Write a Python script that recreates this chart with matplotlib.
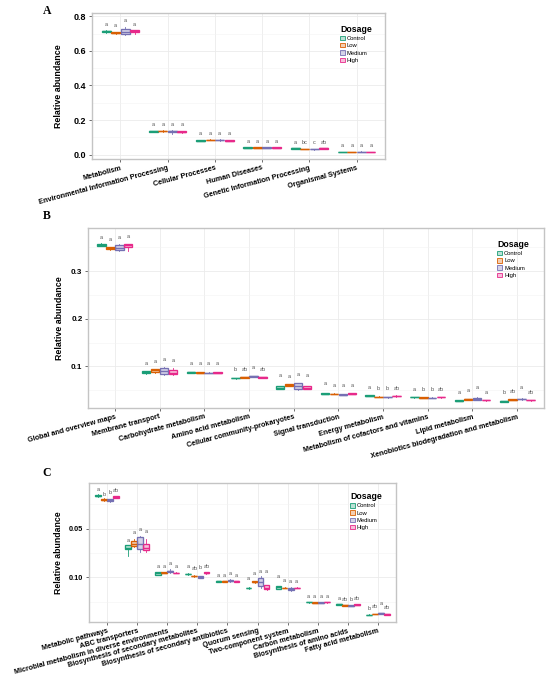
import matplotlib
matplotlib.use("Agg")
import matplotlib.pyplot as plt
from matplotlib.patches import Patch
from matplotlib.colors import to_rgba
from matplotlib.ticker import FixedLocator, FixedFormatter, MultipleLocator

plt.rcParams['font.family'] = ['Liberation Sans', 'DejaVu Sans']

dosages = ["Control", "Low", "Medium", "High"]
dose_colors = ["#1B9E77", "#D95F02", "#7570B3", "#E7298A"]

# ---------------- Panel A (KEGG level 1) ----------------
catsA = ["Metabolism", "Environmental Information Processing", "Cellular Processes",
         "Human Diseases", "Genetic Information Processing", "Organismal Systems"]
# (whisker low, Q1, median, Q3, whisker high)
A_control = [(0.706, 0.709, 0.713, 0.716, 0.719), (0.130, 0.132, 0.134, 0.136, 0.138),
             (0.077, 0.079, 0.081, 0.084, 0.085), (0.039, 0.040, 0.041, 0.043, 0.044),
             (0.034, 0.035, 0.036, 0.037, 0.038), (0.014, 0.015, 0.016, 0.017, 0.018)]
A_low = [(0.699, 0.701, 0.705, 0.708, 0.710), (0.133, 0.135, 0.137, 0.139, 0.140),
         (0.082, 0.084, 0.086, 0.087, 0.088), (0.039, 0.040, 0.041, 0.043, 0.044),
         (0.031, 0.032, 0.033, 0.034, 0.035), (0.014, 0.015, 0.016, 0.017, 0.018)]
A_medium = [(0.690, 0.698, 0.708, 0.725, 0.740), (0.122, 0.130, 0.134, 0.138, 0.141),
            (0.079, 0.082, 0.084, 0.087, 0.088), (0.038, 0.039, 0.040, 0.042, 0.043),
            (0.029, 0.030, 0.031, 0.032, 0.033), (0.014, 0.015, 0.016, 0.018, 0.019)]
A_high = [(0.700, 0.709, 0.713, 0.720, 0.722), (0.128, 0.131, 0.133, 0.135, 0.137),
          (0.077, 0.079, 0.081, 0.083, 0.084), (0.038, 0.039, 0.040, 0.042, 0.043),
          (0.034, 0.035, 0.036, 0.037, 0.038), (0.014, 0.015, 0.016, 0.017, 0.018)]
A_letters = [["a", "a", "a", "a"], ["a", "a", "a", "a"], ["a", "a", "a", "a"],
             ["a", "a", "a", "a"], ["a", "bc", "c", "ab"], ["a", "a", "a", "a"]]
A_letter_y = [[0.750, 0.745, 0.775, 0.752], [0.176, 0.176, 0.176, 0.176],
              [0.124, 0.124, 0.124, 0.124], [0.075, 0.075, 0.075, 0.075],
              [0.069, 0.069, 0.069, 0.069], [0.052, 0.052, 0.052, 0.052]]

# ---------------- Panel B (KEGG level 2) ----------------
catsB = ["Global and overview maps", "Membrane transport", "Carbohydrate metabolism",
         "Amino acid metabolism", "Cellular community-prokaryotes", "Signal transduction",
         "Energy metabolism", "Metabolism of cofactors and vitamins", "Lipid metabolism",
         "Xenobiotics biodegradation and metabolism"]
B_control = [(0.353, 0.354, 0.356, 0.358, 0.359), (0.084, 0.0853, 0.0874, 0.0895, 0.090),
             (0.086, 0.0868, 0.0877, 0.0885, 0.089), (0.074, 0.0745, 0.0754, 0.076, 0.0765),
             (0.0515, 0.0527, 0.0555, 0.0583, 0.059), (0.0415, 0.042, 0.0428, 0.0436, 0.044),
             (0.037, 0.0375, 0.0383, 0.039, 0.0395), (0.0342, 0.0346, 0.0352, 0.0358, 0.0362),
             (0.027, 0.0273, 0.0278, 0.0284, 0.0288), (0.0255, 0.026, 0.0264, 0.0269, 0.0273)]
B_low = [(0.345, 0.346, 0.348, 0.350, 0.351), (0.087, 0.088, 0.0916, 0.094, 0.095),
         (0.0855, 0.086, 0.0866, 0.0872, 0.0878), (0.0755, 0.076, 0.0768, 0.0775, 0.078),
         (0.059, 0.0597, 0.061, 0.0625, 0.063), (0.041, 0.0413, 0.042, 0.0427, 0.043),
         (0.0345, 0.035, 0.0356, 0.0362, 0.0367), (0.033, 0.0335, 0.034, 0.0346, 0.035),
         (0.0295, 0.030, 0.0306, 0.0312, 0.0316), (0.029, 0.0294, 0.0299, 0.0304, 0.0308)]
B_medium = [(0.342, 0.344, 0.349, 0.356, 0.358), (0.081, 0.083, 0.0895, 0.097, 0.099),
            (0.085, 0.0855, 0.0862, 0.0868, 0.0873), (0.0775, 0.078, 0.079, 0.080, 0.0805),
            (0.051, 0.0527, 0.059, 0.0647, 0.066), (0.0395, 0.040, 0.0406, 0.0413, 0.042),
            (0.034, 0.0345, 0.035, 0.0356, 0.036), (0.0325, 0.033, 0.0335, 0.034, 0.0345),
            (0.029, 0.030, 0.032, 0.0335, 0.035), (0.030, 0.0305, 0.0313, 0.032, 0.0325)]
B_high = [(0.343, 0.350, 0.355, 0.357, 0.358), (0.082, 0.0832, 0.086, 0.0916, 0.097),
          (0.0855, 0.086, 0.0866, 0.0872, 0.0878), (0.076, 0.0765, 0.0775, 0.078, 0.0785),
          (0.052, 0.0527, 0.0555, 0.0583, 0.059), (0.0415, 0.042, 0.0428, 0.0436, 0.044),
          (0.0365, 0.037, 0.0376, 0.0383, 0.0388), (0.0342, 0.0346, 0.0352, 0.0358, 0.0362),
          (0.028, 0.0287, 0.0292, 0.0297, 0.030), (0.028, 0.0287, 0.0292, 0.0297, 0.030)]
B_letters = [["a", "a", "a", "a"], ["a", "a", "a", "a"], ["a", "a", "a", "a"],
             ["b", "ab", "a", "ab"], ["a", "a", "a", "a"], ["a", "a", "a", "a"],
             ["a", "b", "b", "ab"], ["a", "b", "b", "ab"], ["a", "a", "a", "a"],
             ["b", "ab", "a", "ab"]]
B_letter_y = [[0.372, 0.367, 0.372, 0.374], [0.1056, 0.111, 0.114, 0.112],
              [0.106, 0.105, 0.105, 0.106], [0.093, 0.094, 0.097, 0.094],
              [0.080, 0.079, 0.082, 0.081], [0.064, 0.060, 0.059, 0.060],
              [0.0545, 0.054, 0.054, 0.054], [0.051, 0.051, 0.051, 0.051],
              [0.044, 0.049, 0.0565, 0.0453], [0.044, 0.0474, 0.0558, 0.0453]]

# ---------------- Panel C (KEGG level 3) ----------------
catsC = ["Metabolic pathways", "ABC transporters", "Microbial metabolism in diverse environments",
         "Biosynthesis of secondary metabolites", "Biosynthesis of secondary antibiotics",
         "Quorum sensing", "Two-component system", "Carbon metabolism",
         "Biosynthesis of amino acids", "Fatty acid metabolism"]
C_control = [(0.182, 0.1833, 0.1839, 0.1845, 0.185), (0.1216, 0.1287, 0.1305, 0.1329, 0.1335),
             (0.1025, 0.1028, 0.104, 0.1054, 0.1056), (0.1028, 0.103, 0.1034, 0.1038, 0.104),
             (0.0953, 0.0955, 0.0959, 0.0963, 0.0965), (0.0884, 0.0887, 0.089, 0.0895, 0.0898),
             (0.088, 0.0884, 0.0897, 0.0908, 0.091), (0.074, 0.0742, 0.0745, 0.0748, 0.075),
             (0.0718, 0.072, 0.0723, 0.0726, 0.0728), (0.0608, 0.061, 0.0613, 0.0616, 0.0618)]
C_low = [(0.1788, 0.179, 0.1798, 0.1805, 0.181), (0.131, 0.1325, 0.1346, 0.1373, 0.139),
         (0.1042, 0.1044, 0.1047, 0.105, 0.1052), (0.1008, 0.101, 0.1014, 0.1018, 0.102),
         (0.0953, 0.0955, 0.0959, 0.0963, 0.0965), (0.0945, 0.0948, 0.0952, 0.0957, 0.096),
         (0.0885, 0.0887, 0.089, 0.0893, 0.0896), (0.0736, 0.0738, 0.0741, 0.0744, 0.0746),
         (0.0708, 0.071, 0.0713, 0.0716, 0.0718), (0.0618, 0.062, 0.0623, 0.0626, 0.0628)]
C_medium = [(0.1775, 0.178, 0.179, 0.180, 0.1808), (0.126, 0.1294, 0.1339, 0.1414, 0.1428),
            (0.1048, 0.1052, 0.1061, 0.1068, 0.108), (0.0993, 0.0996, 0.1003, 0.101, 0.1014),
            (0.0955, 0.0958, 0.0962, 0.0968, 0.0985), (0.089, 0.0908, 0.0952, 0.0993, 0.101),
            (0.0862, 0.0866, 0.0877, 0.0894, 0.0897), (0.0736, 0.0738, 0.0741, 0.0744, 0.0746),
            (0.0705, 0.0707, 0.071, 0.0713, 0.0715), (0.0625, 0.0627, 0.063, 0.0634, 0.0637)]
C_high = [(0.181, 0.1816, 0.1824, 0.183, 0.1835), (0.126, 0.1277, 0.1305, 0.1339, 0.1395),
          (0.1043, 0.1045, 0.1047, 0.1049, 0.1051), (0.1036, 0.104, 0.1044, 0.105, 0.1054),
          (0.0953, 0.0955, 0.0959, 0.0963, 0.0965), (0.087, 0.0877, 0.0887, 0.0918, 0.0925),
          (0.0885, 0.0887, 0.089, 0.0893, 0.0896), (0.074, 0.0742, 0.0745, 0.0748, 0.075),
          (0.0715, 0.0717, 0.072, 0.0723, 0.0725), (0.0615, 0.0617, 0.062, 0.0623, 0.0625)]
C_letters = [["a", "b", "b", "ab"], ["a", "a", "a", "a"], ["a", "a", "a", "a"],
             ["a", "ab", "b", "ab"], ["a", "a", "a", "a"], ["a", "a", "a", "a"],
             ["a", "a", "a", "a"], ["a", "a", "a", "a"], ["a", "ab", "b", "ab"],
             ["b", "ab", "a", "ab"]]
C_letter_y = [[0.1903, 0.1852, 0.187, 0.1886], [0.138, 0.1455, 0.149, 0.147],
              [0.1106, 0.1106, 0.114, 0.1106], [0.1106, 0.1089, 0.1099, 0.1106],
              [0.1017, 0.1017, 0.1044, 0.1017], [0.0983, 0.1034, 0.106, 0.1055],
              [0.101, 0.0966, 0.0952, 0.0952], [0.0805, 0.0805, 0.0805, 0.0805],
              [0.0784, 0.0771, 0.0771, 0.0784], [0.0679, 0.0695, 0.0736, 0.0685]]
# y tick labels as printed on panel C
C_yticks = [0.10, 0.15]
C_ytick_labels = ["0.10", "0.05"]

W, H = 550, 676
fig = plt.figure(figsize=(W / 100, H / 100), dpi=100)


def px_axes(l, t, r, b):
    return fig.add_axes([l / W, 1 - b / H, (r - l) / W, (b - t) / H])


def draw_panel(ax, cats, series, letters, letter_y, ylim, tick_fs, leg_anchor):
    n = len(cats)
    offsets = [-0.3, -0.1, 0.1, 0.3]
    for k, (stats_list, col) in enumerate(zip(series, dose_colors)):
        stats = []
        for s in stats_list:
            stats.append(dict(whislo=s[0], q1=s[1], med=s[2], q3=s[3], whishi=s[4], fliers=[]))
        pos = [i + offsets[k] for i in range(n)]
        ax.bxp(stats, positions=pos, widths=0.19, patch_artist=True, showfliers=False,
               showcaps=False, manage_ticks=False,
               boxprops=dict(facecolor=to_rgba(col, 0.3), edgecolor=col, linewidth=0.95),
               medianprops=dict(color=col, linewidth=1.0),
               whiskerprops=dict(color=col, linewidth=0.6))
        for i in range(n):
            ax.text(i + offsets[k], letter_y[i][k], letters[i][k], ha='center', va='center',
                    fontsize=4, color='#555555')
    ax.set_xlim(-0.6, n - 0.4)
    ax.set_ylim(*ylim)
    ax.set_xticks(range(n))
    ax.set_xticklabels(cats, rotation=15, ha='right', va='top', rotation_mode='anchor',
                       fontsize=5.2, fontweight='bold', color='black')
    ax.tick_params(axis='both', length=2, width=0.5, color='#333333', pad=2)
    ax.tick_params(axis='y', labelsize=tick_fs)
    for lab in ax.get_yticklabels():
        lab.set_fontweight('bold')
    ax.set_axisbelow(True)
    ax.grid(True, which='major', color='#EBEBEB', linewidth=0.6)
    ax.grid(True, which='minor', axis='y', color='#F3F3F3', linewidth=0.4)
    ax.tick_params(axis='y', which='minor', length=0)
    for sp in ax.spines.values():
        sp.set_color('#C4C4C4')
        sp.set_linewidth(1.0)
    handles = [Patch(facecolor=to_rgba(c, 0.3), edgecolor=c, linewidth=0.6, label=d)
               for c, d in zip(dose_colors, dosages)]
    leg = ax.legend(handles=handles, title='Dosage', loc='upper left', bbox_to_anchor=leg_anchor,
                    frameon=False, fontsize=4.2, handlelength=0.8, handleheight=0.8,
                    labelspacing=0.35, handletextpad=0.4, borderpad=0, borderaxespad=0,
                    alignment='left')
    leg.get_title().set_fontsize(6.3)
    leg.get_title().set_fontweight('bold')


# Panel A
axA = px_axes(92, 13, 385, 159)
draw_panel(axA, catsA, [A_control, A_low, A_medium, A_high], A_letters, A_letter_y,
           (-0.025, 0.819), 6.5, (0.846, 0.92))
axA.yaxis.set_major_locator(MultipleLocator(0.2))
axA.yaxis.set_minor_locator(MultipleLocator(0.1))
axA.yaxis.set_major_formatter(matplotlib.ticker.FormatStrFormatter('%.1f'))
for lab in axA.get_yticklabels():
    lab.set_fontweight('bold')
axA.set_ylabel('Relative abundance', fontsize=6.4, fontweight='bold')
axA.yaxis.set_label_coords(-0.099, 0.5)

# Panel B
axB = px_axes(88, 228, 544, 408)
draw_panel(axB, catsB, [B_control, B_low, B_medium, B_high], B_letters, B_letter_y,
           (0.0124, 0.391), 5.8, (0.897, 0.935))
axB.yaxis.set_major_locator(MultipleLocator(0.1))
axB.yaxis.set_minor_locator(MultipleLocator(0.05))
axB.yaxis.set_major_formatter(matplotlib.ticker.FormatStrFormatter('%.1f'))
for lab in axB.get_yticklabels():
    lab.set_fontweight('bold')
axB.set_ylabel('Relative abundance', fontsize=6.4, fontweight='bold')
axB.yaxis.set_label_coords(-0.053, 0.5)

# Panel C
axC = px_axes(89, 483, 396, 622)
draw_panel(axC, catsC, [C_control, C_low, C_medium, C_high], C_letters, C_letter_y,
           (0.0541, 0.1968), 5.3, (0.850, 0.935))
axC.yaxis.set_major_locator(FixedLocator(C_yticks))
axC.yaxis.set_major_formatter(FixedFormatter(C_ytick_labels))
axC.yaxis.set_minor_locator(MultipleLocator(0.025))
for lab in axC.get_yticklabels():
    lab.set_fontweight('bold')
axC.set_ylabel('Relative abundance', fontsize=6.3, fontweight='bold')
axC.yaxis.set_label_coords(-0.085, 0.5)

for lbl, (x, y) in zip(["A", "B", "C"], [(47, 10.5), (47, 216), (47, 473)]):
    fig.text(x / W, 1 - y / H, lbl, ha='center', va='center', fontsize=8.5,
             fontweight='bold', family=['Liberation Serif', 'DejaVu Serif'])

fig.savefig('out.png', dpi=100)
